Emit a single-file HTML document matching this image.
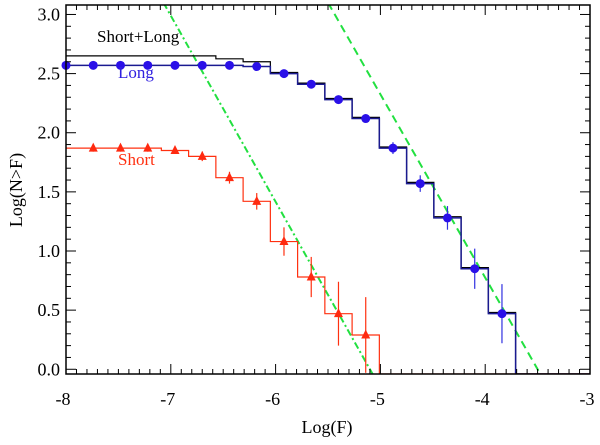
<!DOCTYPE html>
<html><head><meta charset="utf-8"><style>
body{margin:0;background:#fff}
svg text{font-family:"Liberation Serif",serif}
</style></head><body>
<svg id="c" width="600" height="440" xmlns="http://www.w3.org/2000/svg"></svg>
<script>
const binStart = -8.0;
const binWidth = 0.26;
const longVals = [2.57,2.57,2.57,2.57,2.57,2.57,2.57,2.56,2.50,2.41,2.28,2.12,1.87,1.57,1.28,0.85,0.47];
const longErr  = [0,0,0,0,0,0,0,0,0.01,0.02,0.02,0.03,0.05,0.07,0.1,0.17,0.25];
const shortVals = [1.87,1.87,1.87,1.87,1.85,1.80,1.62,1.42,1.08,0.78,0.47,0.29];
const shortErr  = [0,0.03,0.03,0.03,0.03,0.04,0.05,0.07,0.12,0.17,0.27,0.32];
const shortMarkFrom = 1;
const totalVals = [2.65,2.65,2.65,2.65,2.65,2.65,2.625,2.60,2.51,2.42,2.29,2.13,1.88,1.58,1.29,0.86,0.48];
const fitShort = [[-7.07,3.1],[-5.10,0.0]];
const fitLong = [[-5.5,3.1],[-3.5,0.0]];
const xTicks = [-8,-7,-6,-5,-4,-3];
const yTicks = [0,0.5,1,1.5,2,2.5,3];
const xMin=-8,xMax=-3,yMin=-0.04,yMax=3.08;
const L=66,R=590,T=5,B=374;
const sx=v=>L+(v-xMin)/(xMax-xMin)*(R-L);
const sy=v=>B-(v-yMin)/(yMax-yMin)*(B-T);
const svg=document.getElementById('c');
const NS='http://www.w3.org/2000/svg';
function mk(tag,attrs,parent){const e=document.createElementNS(NS,tag);for(const k in attrs)e.setAttribute(k,attrs[k]);(parent||svg).appendChild(e);return e;}
const defs=mk('clipPath',{id:'clip'});mk('rect',{x:L,y:T,width:R-L,height:B-T},defs);
const plot=mk('g',{'clip-path':'url(#clip)'});


function stepPath(vals){let d='';vals.forEach((v,i)=>{const c=binStart+i*binWidth;const x0=i==0?xMin:c-binWidth/2,x1=c+binWidth/2;d+=(i==0?'M':'L')+sx(x0)+','+sy(v)+'L'+sx(x1)+','+sy(v);});const last=binStart+(vals.length-1)*binWidth+binWidth/2;d+='L'+sx(last)+','+sy(yMin)+'L'+sx(xMax)+','+sy(yMin);return d;}
function ext(f){const s=(f[1][1]-f[0][1])/(f[1][0]-f[0][0]);return f[1][0]+(yMin-f[1][1])/s;}
let g1=mk('line',{x1:sx(fitShort[0][0]),y1:sy(fitShort[0][1]),x2:sx(ext(fitShort)),y2:sy(yMin),stroke:'#22e040','stroke-width':2,'stroke-dasharray':'7,3,2,3'},plot);


let g2=mk('line',{x1:sx(fitLong[0][0]),y1:sy(fitLong[0][1]),x2:sx(ext(fitLong)),y2:sy(yMin),stroke:'#22e040','stroke-width':2,'stroke-dasharray':'8,5'},plot);


let pt=mk('path',{d:stepPath(totalVals),fill:'none',stroke:'#000','stroke-width':1.2},plot);


let pl=mk('path',{d:stepPath(longVals),fill:'none',stroke:'#1a1a90','stroke-width':1.5},plot);


let ps=mk('path',{d:stepPath(shortVals),fill:'none',stroke:'#ff3010','stroke-width':1.2},plot);


longVals.forEach((v,i)=>{const x=sx(binStart+i*binWidth);
 if(longErr[i]>0){const e=mk('line',{x1:x,x2:x,y1:sy(v-longErr[i]),y2:sy(v+longErr[i]),stroke:'#3030e0','stroke-width':1.2},plot);
 
 }
 const c=mk('circle',{cx:x,cy:sy(v),r:4.5,fill:'#2a10e8'});
 
 });
shortVals.forEach((v,i)=>{if(i<shortMarkFrom)return;const x=sx(binStart+i*binWidth),y=sy(v);
 const e=mk('line',{x1:x,x2:x,y1:sy(v-shortErr[i]),y2:sy(v+shortErr[i]),stroke:'#ff3010','stroke-width':1.2},plot);
 
 
 const t=mk('polygon',{points:`${x},${y-5.5} ${x-4.5},${y+3.5} ${x+4.5},${y+3.5}`,fill:'#ff2a10'});
 
 });
const fr=mk('rect',{x:L,y:T,width:R-L,height:B-T,fill:'none',stroke:'#000','stroke-width':1.5});


for(let v=xMin;v<=xMax+1e-9;v+=0.1){const x=sx(v);const maj=Math.abs(v-Math.round(v))<1e-6;const len=maj?10:5;
 mk('line',{x1:x,x2:x,y1:B,y2:B-len,stroke:'#000'});mk('line',{x1:x,x2:x,y1:T,y2:T+len,stroke:'#000'});}
for(let v=0;v<=3.0001;v+=0.1){const y=sy(v);const maj=Math.abs(v*2-Math.round(v*2))<1e-6;const len=maj?10:5;
 mk('line',{x1:L,x2:L+len,y1:y,y2:y,stroke:'#000'});mk('line',{x1:R,x2:R-len,y1:y,y2:y,stroke:'#000'});}
xTicks.forEach(v=>{const t=mk('text',{x:sx(v)-3,y:405,'text-anchor':'middle','font-size':18});t.textContent=String(v);
 
 });
yTicks.forEach(v=>{const t=mk('text',{x:L-6,y:sy(v)+6,'text-anchor':'end','font-size':18});t.textContent=v.toFixed(1);
 
 });
</script>
<div style="position:absolute;left:0;top:0;width:600px;height:440px;pointer-events:none">
<svg width="600" height="440" style="position:absolute;left:0;top:0">
<text x="327" y="433" text-anchor="middle" font-size="18" font-family="Liberation Serif,serif">Log(F)</text>
<text transform="translate(22,190) rotate(-90)" text-anchor="middle" font-size="18" font-family="Liberation Serif,serif">Log(N&gt;F)</text>
<text x="97" y="42" font-size="17" font-family="Liberation Serif,serif" fill="#000">Short+Long</text>
<text x="118" y="78" font-size="17" font-family="Liberation Serif,serif" fill="#3020e0">Long</text>
<text x="118" y="165" font-size="17" font-family="Liberation Serif,serif" fill="#ff3010">Short</text>
</svg></div>
</body></html>
